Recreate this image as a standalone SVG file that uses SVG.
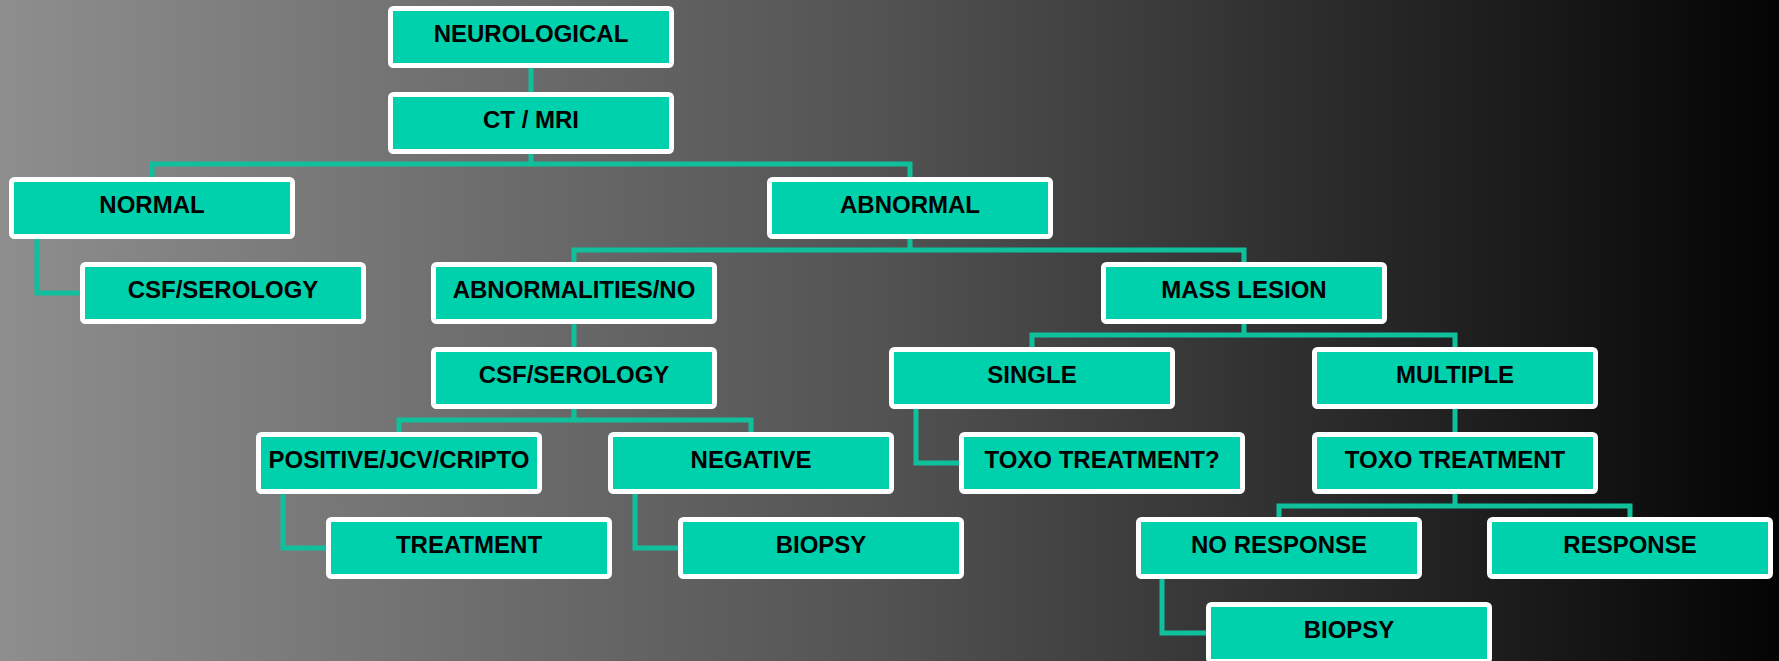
<svg xmlns="http://www.w3.org/2000/svg" width="1779" height="661" viewBox="0 0 1779 661">
<defs>
<linearGradient id="bg" x1="0" y1="0" x2="1" y2="0">
<stop offset="0" stop-color="#8e8e8e"/>
<stop offset="0.5" stop-color="#525252"/>
<stop offset="1" stop-color="#040404"/>
</linearGradient>
</defs>
<style>
.box rect{fill:#00d1ad;stroke:#ffffff;stroke-width:5}
.box text{font-family:"Liberation Sans",Arial,sans-serif;font-weight:bold;font-size:24px;fill:#000;text-anchor:middle}
.conn path{fill:none;stroke:#10bf9b;stroke-width:5;stroke-linejoin:miter}
</style>
<rect x="0" y="0" width="1779" height="661" fill="url(#bg)"/>
<g class="conn">
<path d="M531 68V92"/>
<path d="M531 153V164M152 177V164H910V177"/>
<path d="M37 238V293H80"/>
<path d="M910 238V250M574 262V250H1244V262"/>
<path d="M574 323V347"/>
<path d="M1244 323V335M1032 347V335H1455V347"/>
<path d="M574 408V420M399 432V420H751V432"/>
<path d="M283 494V548H326"/>
<path d="M635 494V548H678"/>
<path d="M916 408V463H959"/>
<path d="M1455 408V432"/>
<path d="M1455 494V506M1279 517V506H1630V517"/>
<path d="M1162 579V633H1206"/>
</g>
<g id="n-neuro" class="box"><rect x="390.5" y="8.5" width="281" height="57" rx="3"/><text x="531" y="41.5">NEUROLOGICAL</text></g>
<g id="n-ctmri" class="box"><rect x="390.5" y="94.5" width="281" height="57" rx="3"/><text x="531" y="127.5">CT / MRI</text></g>
<g id="n-normal" class="box"><rect x="11.5" y="179.5" width="281" height="57" rx="3"/><text x="152" y="212.5">NORMAL</text></g>
<g id="n-abnormal" class="box"><rect x="769.5" y="179.5" width="281" height="57" rx="3"/><text x="910" y="212.5">ABNORMAL</text></g>
<g id="n-csf1" class="box"><rect x="82.5" y="264.5" width="281" height="57" rx="3"/><text x="223" y="297.5">CSF/SEROLOGY</text></g>
<g id="n-abnno" class="box"><rect x="433.5" y="264.5" width="281" height="57" rx="3"/><text x="574" y="297.5">ABNORMALITIES/NO</text></g>
<g id="n-mass" class="box"><rect x="1103.5" y="264.5" width="281" height="57" rx="3"/><text x="1244" y="297.5">MASS LESION</text></g>
<g id="n-csf2" class="box"><rect x="433.5" y="349.5" width="281" height="57" rx="3"/><text x="574" y="382.5">CSF/SEROLOGY</text></g>
<g id="n-single" class="box"><rect x="891.5" y="349.5" width="281" height="57" rx="3"/><text x="1032" y="382.5">SINGLE</text></g>
<g id="n-multiple" class="box"><rect x="1314.5" y="349.5" width="281" height="57" rx="3"/><text x="1455" y="382.5">MULTIPLE</text></g>
<g id="n-positive" class="box"><rect x="258.5" y="434.5" width="281" height="57" rx="3"/><text x="399" y="467.5">POSITIVE/JCV/CRIPTO</text></g>
<g id="n-negative" class="box"><rect x="610.5" y="434.5" width="281" height="57" rx="3"/><text x="751" y="467.5">NEGATIVE</text></g>
<g id="n-toxoq" class="box"><rect x="961.5" y="434.5" width="281" height="57" rx="3"/><text x="1102" y="467.5">TOXO TREATMENT?</text></g>
<g id="n-toxo" class="box"><rect x="1314.5" y="434.5" width="281" height="57" rx="3"/><text x="1455" y="467.5">TOXO TREATMENT</text></g>
<g id="n-treatment" class="box"><rect x="328.5" y="519.5" width="281" height="57" rx="3"/><text x="469" y="552.5">TREATMENT</text></g>
<g id="n-biopsy1" class="box"><rect x="680.5" y="519.5" width="281" height="57" rx="3"/><text x="821" y="552.5">BIOPSY</text></g>
<g id="n-noresp" class="box"><rect x="1138.5" y="519.5" width="281" height="57" rx="3"/><text x="1279" y="552.5">NO RESPONSE</text></g>
<g id="n-resp" class="box"><rect x="1489.5" y="519.5" width="281" height="57" rx="3"/><text x="1630" y="552.5">RESPONSE</text></g>
<g id="n-biopsy2" class="box"><rect x="1208.5" y="604.5" width="281" height="57" rx="3"/><text x="1349" y="637.5">BIOPSY</text></g>
</svg>
